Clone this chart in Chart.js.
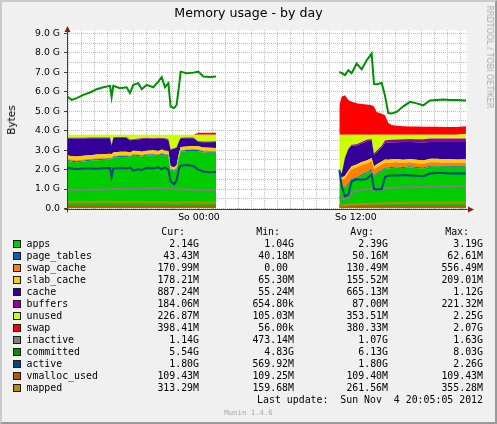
<!DOCTYPE html>
<html><head><meta charset="utf-8">
<script src="https://cdn.jsdelivr.net/npm/chart.js@4.4.0/dist/chart.umd.min.js"></script>
<style>
html,body{margin:0;padding:0;}
body{width:497px;height:424px;background:#f0f0f0;position:relative;overflow:hidden;font-family:'DejaVu Sans',sans-serif;}
#frame{position:absolute;left:0;top:0;width:497px;height:424px;box-sizing:border-box;border-style:solid;border-width:2px;border-color:#cbcbcb #999 #999 #cbcbcb;pointer-events:none;z-index:5;}
#wrap{position:absolute;left:0;top:0;width:497px;height:232px;}
.t{position:absolute;white-space:pre;}
.mono{font-family:'DejaVu Sans Mono',monospace;font-size:9.9px;line-height:12px;color:#000;}
.box{position:absolute;width:8px;height:8px;box-sizing:border-box;border:1px solid #1a1a1a;}
</style>
</head><body>
<div id="wrap"><canvas id="c"></canvas></div>
<div class="t" id="title" style="left:0;width:497px;text-align:center;top:5px;font-size:12.6px;line-height:15px;color:#000;">Memory usage - by day</div>
<div class="t" style="left:11px;top:120px;font-size:10.5px;line-height:12px;transform:translate(-50%,-50%) rotate(-90deg);color:#000;">Bytes</div>
<div class="t" style="left:488.5px;top:56.5px;font-size:8px;line-height:10px;transform:translate(-50%,-50%) rotate(90deg);color:#ababab;">RRDTOOL / TOBI OETIKER</div>
<div id="legend"></div>
<div id="frame"></div>
<script>
// ---- time axis (hours relative to "So 00:00"); null entry marks the data gap
const hours = [-10.09,-9.73,-9.35,-8.84,-8.33,-7.82,-7.31,-6.80,-6.68,-6.55,-6.04,-5.53,-5.28,-5.02,-4.64,-4.38,-4.00,-3.49,-3.11,-2.85,-2.60,-2.34,-2.17,-1.91,-1.71,-1.53,-1.40,-0.94,-0.43,-0.05,0.33,0.84,1.30,
  6.0,
  10.73,10.91,11.16,11.42,11.67,12.05,12.44,12.82,13.20,13.38,13.58,13.97,14.22,14.47,14.73,15.11,15.62,16.13,16.64,17.15,17.66,18.17,18.68,19.19,19.70,20.41];
const tickHours = [0, 12];
const tickLabels = ['So 00:00', 'So 12:00'];

// ---- stacked areas (GB)
const apps = [2.45,2.40,2.38,2.42,2.45,2.48,2.50,2.52,2.50,2.62,2.65,2.66,2.62,2.72,2.70,2.66,2.72,2.74,2.70,2.78,2.72,2.70,1.95,1.90,2.00,2.60,2.92,2.95,2.96,2.95,2.88,2.87,2.86,
  null,
  1.60,1.10,1.05,1.25,1.45,1.55,1.70,1.80,1.95,1.65,1.75,1.90,2.05,2.05,2.08,2.10,2.08,2.12,2.08,2.05,2.15,2.16,2.14,2.15,2.13,2.14];
const pageTables = [0.05,0.05,0.05,0.05,0.05,0.05,0.05,0.05,0.05,0.05,0.05,0.05,0.05,0.05,0.05,0.05,0.05,0.05,0.05,0.05,0.05,0.05,0.05,0.05,0.05,0.05,0.05,0.05,0.05,0.05,0.05,0.05,0.05,
  null,
  0.06,0.06,0.06,0.06,0.06,0.06,0.06,0.06,0.06,0.06,0.06,0.06,0.05,0.05,0.05,0.05,0.05,0.05,0.05,0.05,0.05,0.04,0.04,0.04,0.04,0.04];
const swapCache = [0.05,0.05,0.05,0.05,0.05,0.05,0.05,0.05,0.05,0.04,0.04,0.04,0.04,0.04,0.04,0.04,0.04,0.04,0.04,0.04,0.04,0.04,0.04,0.04,0.04,0.04,0.04,0.04,0.05,0.05,0.05,0.05,0.05,
  null,
  0.10,0.30,0.45,0.50,0.52,0.50,0.48,0.45,0.42,0.30,0.30,0.30,0.25,0.24,0.23,0.22,0.21,0.20,0.20,0.20,0.18,0.18,0.17,0.17,0.17,0.17];
const slabCache = [0.19,0.19,0.19,0.19,0.19,0.19,0.19,0.19,0.19,0.17,0.17,0.17,0.17,0.16,0.16,0.16,0.16,0.16,0.16,0.16,0.16,0.16,0.13,0.13,0.13,0.15,0.15,0.15,0.15,0.15,0.15,0.15,0.15,
  null,
  0.12,0.12,0.12,0.13,0.14,0.15,0.15,0.16,0.16,0.15,0.15,0.16,0.17,0.17,0.17,0.17,0.17,0.17,0.17,0.17,0.18,0.18,0.18,0.18,0.18,0.18];
const cache = [0.85,0.90,0.92,0.88,0.87,0.84,0.82,0.80,0.45,0.74,0.72,0.70,0.62,0.55,0.60,0.66,0.62,0.58,0.64,0.55,0.60,0.58,0.85,0.95,0.90,0.60,0.45,0.42,0.40,0.22,0.27,0.28,0.30,
  null,
  0.15,0.20,0.92,1.10,1.05,0.98,0.95,0.98,0.90,0.60,0.62,0.70,0.85,0.88,0.86,0.86,0.90,0.87,0.90,0.92,0.86,0.86,0.88,0.88,0.89,0.89];
const buffers = [0.04,0.04,0.04,0.04,0.04,0.04,0.04,0.04,0.04,0.04,0.04,0.04,0.04,0.04,0.04,0.04,0.04,0.04,0.04,0.04,0.04,0.04,0.03,0.03,0.03,0.03,0.03,0.04,0.04,0.04,0.04,0.04,0.04,
  null,
  0.01,0.01,0.03,0.04,0.05,0.06,0.07,0.08,0.08,0.08,0.09,0.10,0.12,0.13,0.14,0.15,0.15,0.16,0.16,0.17,0.17,0.18,0.18,0.18,0.18,0.18];
const unused = [0.16,0.16,0.16,0.16,0.14,0.14,0.14,0.14,0.51,0.13,0.12,0.13,0.25,0.23,0.20,0.18,0.16,0.18,0.16,0.17,0.18,0.22,0.74,0.69,0.64,0.32,0.15,0.14,0.14,0.33,0.35,0.35,0.34,
  null,
  1.75,2.00,1.16,0.71,0.52,0.49,0.38,0.26,0.22,0.95,0.82,0.57,0.30,0.27,0.26,0.24,0.23,0.22,0.23,0.23,0.20,0.19,0.20,0.19,0.20,0.23];
const swap = [0,0,0,0,0,0,0,0,0,0,0,0,0,0,0,0,0,0,0,0,0,0,0,0,0,0,0,0,0,0.10,0.10,0.10,0.10,
  null,
  1.50,1.95,2.03,1.78,1.70,1.62,1.58,1.55,1.52,1.45,1.17,1.08,1.00,0.60,0.50,0.46,0.44,0.42,0.42,0.41,0.41,0.41,0.40,0.40,0.40,0.40];

// ---- lines (GB)
const inactive = [0.97,0.96,0.95,0.96,0.97,0.98,0.98,0.99,0.99,1.00,1.00,1.01,1.01,1.02,1.02,1.03,1.03,1.04,1.05,1.05,1.04,1.03,1.02,1.01,1.00,0.99,0.98,0.97,0.96,0.95,0.95,0.94,0.94,
  null,
  0.60,0.50,0.48,0.55,0.80,0.90,0.95,1.00,1.02,0.90,0.92,0.98,1.05,1.06,1.07,1.08,1.08,1.09,1.10,1.10,1.12,1.12,1.13,1.13,1.14,1.14];
const committed = [5.75,5.58,5.67,5.84,5.96,6.13,6.23,6.30,5.72,6.30,6.18,6.23,5.93,6.35,6.44,6.13,6.35,6.23,6.52,6.75,6.23,6.44,5.24,5.16,5.33,6.27,7.03,6.95,6.98,7.03,6.78,6.75,6.78,
  null,
  7.02,6.95,6.85,7.10,6.95,7.45,7.15,7.62,7.96,6.40,6.38,6.45,5.80,4.90,4.88,4.96,5.25,5.48,5.40,5.30,5.55,5.58,5.60,5.57,5.58,5.55];
const active = [2.08,2.05,2.02,2.05,2.06,2.04,2.07,2.08,1.62,2.05,2.08,2.05,2.10,1.95,2.02,1.98,2.08,2.05,2.12,2.02,2.10,2.00,1.40,1.25,1.45,2.05,2.20,2.24,2.18,2.00,1.90,1.86,1.87,
  null,
  1.97,1.15,0.63,0.70,1.40,1.50,1.48,1.52,1.75,1.00,0.98,1.00,1.62,1.68,1.70,1.70,1.72,1.70,1.68,1.66,1.80,1.82,1.82,1.80,1.81,1.80];
const vmallocUsed = [0.109,0.109,0.109,0.109,0.109,0.109,0.109,0.109,0.109,0.109,0.109,0.109,0.109,0.109,0.109,0.109,0.109,0.109,0.109,0.109,0.109,0.109,0.109,0.109,0.109,0.109,0.109,0.109,0.109,0.109,0.109,0.109,0.109,
  null,
  0.109,0.109,0.109,0.109,0.109,0.109,0.109,0.109,0.109,0.109,0.109,0.109,0.109,0.109,0.109,0.109,0.109,0.109,0.109,0.109,0.109,0.109,0.109,0.109,0.109,0.109];
const mapped = [0.33,0.33,0.34,0.34,0.34,0.35,0.35,0.35,0.35,0.34,0.34,0.34,0.33,0.33,0.33,0.33,0.32,0.32,0.32,0.32,0.32,0.31,0.30,0.30,0.30,0.31,0.32,0.32,0.32,0.31,0.31,0.31,0.31,
  null,
  0.18,0.16,0.17,0.19,0.21,0.22,0.23,0.24,0.25,0.25,0.26,0.26,0.27,0.27,0.28,0.28,0.28,0.29,0.29,0.29,0.30,0.30,0.30,0.31,0.31,0.31];

// ---- legend table text
const legendNames = ['apps','page_tables','swap_cache','slab_cache','cache','buffers','unused','swap','inactive','committed','active','vmalloc_used','mapped'];
const legendCur = ['2.14G','43.43M','170.99M','178.21M','887.24M','184.06M','226.87M','398.41M','1.14G','5.54G','1.80G','109.43M','313.29M'];
const legendMin = ['1.04G','40.18M','0.00 ','65.30M','55.24M','654.80k','105.03M','56.00k','473.14M','4.83G','569.92M','109.25M','159.68M'];
const legendAvg = ['2.39G','50.16M','130.49M','155.52M','665.13M','87.00M','353.51M','380.33M','1.07G','6.13G','1.80G','109.40M','261.56M'];
const legendMax = ['3.19G','62.61M','556.49M','209.01M','1.12G','221.32M','2.25G','2.07G','1.63G','8.03G','2.26G','109.43M','355.28M'];

// ---- styles
const colors = {apps:'#00CC00',page_tables:'#0066B3',swap_cache:'#FF8000',slab_cache:'#FFCC00',cache:'#330099',buffers:'#990099',unused:'#CCFF00',swap:'#FF0000',inactive:'#808080',committed:'#008F00',active:'#00487D',vmalloc_used:'#B35A00',mapped:'#B38F00'};

const areas = [['apps',apps],['page_tables',pageTables],['swap_cache',swapCache],['slab_cache',slabCache],['cache',cache],['buffers',buffers],['unused',unused],['swap',swap]];
const lines = [['inactive',inactive],['committed',committed],['active',active],['vmalloc_used',vmallocUsed],['mapped',mapped]];
const pts = arr => hours.map((h, i) => ({x: h, y: arr[i]}));

const datasets = [];
areas.forEach(([name, arr], i) => datasets.push({
  label: name, data: pts(arr), stack: 'mem', order: 0,
  fill: i === 0 ? 'origin' : '-1', backgroundColor: colors[name],
  borderWidth: 0, borderColor: 'rgba(0,0,0,0)', pointRadius: 0, tension: 0, spanGaps: false
}));
lines.forEach(([name, arr], i) => datasets.push({
  label: name, data: pts(arr), stack: 'line_' + name, order: -1 - i,
  fill: false, borderColor: colors[name], borderWidth: 2, pointRadius: 0, tension: 0, spanGaps: false,
  borderJoinStyle: 'miter'
}));

const muninPlugin = {
  id: 'munin',
  beforeDraw(chart) {
    const {ctx, chartArea: a} = chart;
    ctx.save(); ctx.fillStyle = '#ffffff';
    ctx.fillRect(a.left, a.top, a.right - a.left, a.bottom - a.top); ctx.restore();
  },
  afterDraw(chart) {
    const {ctx, chartArea: a} = chart;
    const y0 = Math.round(chart.scales.y.getPixelForValue(0)) + 0.5;
    const x0 = Math.round(a.left) + 0.5;
    ctx.save();
    ctx.strokeStyle = '#3c3c3c'; ctx.lineWidth = 1;
    ctx.beginPath();
    ctx.moveTo(x0 - 3, y0); ctx.lineTo(a.right + 3, y0);
    ctx.moveTo(x0, y0 + 3); ctx.lineTo(x0, a.top - 1);
    ctx.stroke();
    ctx.fillStyle = '#8b1a1a';
    ctx.beginPath(); ctx.moveTo(a.right + 7, y0); ctx.lineTo(a.right + 1, y0 - 3); ctx.lineTo(a.right + 1, y0 + 3); ctx.closePath(); ctx.fill();
    ctx.beginPath(); ctx.moveTo(x0, a.top - 4); ctx.lineTo(x0 - 3, a.top + 2); ctx.lineTo(x0 + 3, a.top + 2); ctx.closePath(); ctx.fill();
    ctx.restore();
  }
};

const isInt = v => Math.abs(v - Math.round(v)) < 1e-6;

// grid positions: every hour on x, every 0.5 GB on y
const xGrid = [];
for (let h = -10; h <= 20; h++) xGrid.push(h);
const yGrid = [];
for (let k = 0; k <= 18; k++) yGrid.push(k / 2);

Chart.defaults.font.family = "'DejaVu Sans', sans-serif";
new Chart(document.getElementById('c'), {
  type: 'line',
  data: {datasets},
  plugins: [muninPlugin],
  options: {
    responsive: true, maintainAspectRatio: false, animation: false,
    layout: {padding: {left: 0, right: 30, top: 30, bottom: 0}},
    plugins: {legend: {display: false}, tooltip: {enabled: false}, title: {display: false}},
    scales: {
      x: {
        type: 'linear', min: -10.09, max: 20.49,
        afterBuildTicks: s => { s.ticks = xGrid.map(v => ({value: v})); },
        afterFit: s => { s.height = 23.5; },
        ticks: {autoSkip: false, maxRotation: 0, minRotation: 0, padding: 3.5, color: '#000', font: {size: 9.4},
          callback: v => { const k = tickHours.indexOf(Math.round(v)); return (k >= 0 && isInt(v)) ? tickLabels[k] : ''; }},
        grid: {color: '#bdbdbd', lineWidth: 1, drawTicks: false},
        border: {display: false, dash: [1, 1]}
      },
      y: {
        type: 'linear', min: 0, max: 9.17, stacked: true,
        afterBuildTicks: s => { s.ticks = yGrid.map(v => ({value: v})); },
        afterFit: s => { s.width = 67; },
        ticks: {autoSkip: false, padding: 4, color: '#000', font: {size: 9.3},
          callback: v => isInt(v) ? (Math.round(v) === 0 ? '0.0' : Math.round(v).toFixed(1) + ' G') : ''},
        grid: {color: '#bdbdbd', lineWidth: 1, drawTicks: true, tickLength: 3,
          tickColor: ctx => (ctx.tick && isInt(ctx.tick.value)) ? '#3c3c3c' : 'rgba(0,0,0,0)'},
        border: {display: false, dash: [1, 1]}
      }
    }
  }
});

// ---- legend table (HTML text)
const lg = document.getElementById('legend');
function addText(txt, left, right, cy, extra) {
  const d = document.createElement('div');
  d.className = 't mono';
  d.textContent = txt;
  d.style.top = (cy - 6) + 'px';
  if (right !== null) { d.style.left = '0px'; d.style.width = right + 'px'; d.style.textAlign = 'right'; }
  else d.style.left = left + 'px';
  if (extra) Object.assign(d.style, extra);
  lg.appendChild(d);
}
const colRight = [199, 294, 388, 483];
const headers = ['Cur:', 'Min:', 'Avg:', 'Max:'];
headers.forEach((h, i) => addText(h, null, colRight[i] - 14, 232));
legendNames.forEach((n, i) => {
  const cy = 244.3 + i * 12;
  const b = document.createElement('div');
  b.className = 'box'; b.style.left = '13px'; b.style.top = (cy - 4) + 'px';
  b.style.background = colors[n];
  lg.appendChild(b);
  addText(n, 26.5, null, cy);
  [legendCur, legendMin, legendAvg, legendMax].forEach((arr, k) => addText(arr[i], null, colRight[k], cy));
});
addText('Last update:  Sun Nov  4 20:05:05 2012', null, 483, 400);
addText('Munin 1.4.6', null, null, 412.7, {left: '0px', width: '497px', textAlign: 'center', fontSize: '7.3px', color: '#a8a8a8'});
</script>
</body></html>
